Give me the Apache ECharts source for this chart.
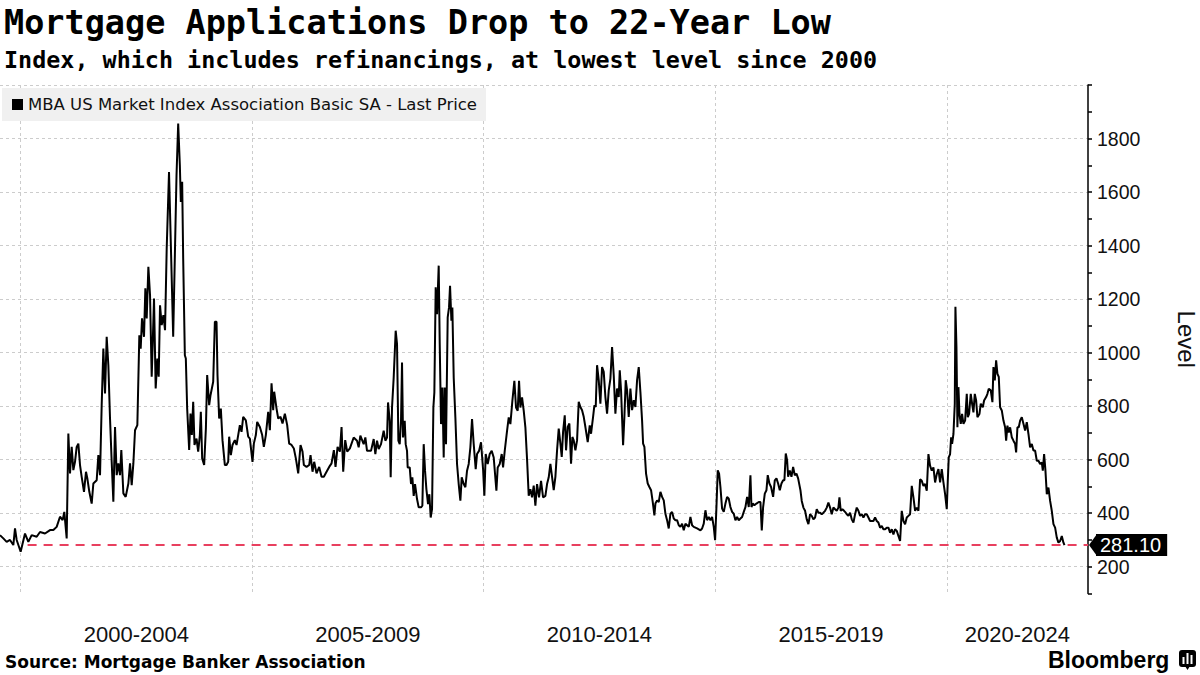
<!DOCTYPE html>
<html>
<head>
<meta charset="utf-8">
<script src="https://cdn.jsdelivr.net/npm/echarts@6/dist/echarts.min.js"></script>
<style>html,body{margin:0;padding:0;background:#fff;}#main{width:1200px;height:675px;}</style>
</head>
<body>
<div id="main"></div>
<script>
// ---- texts ----
const titleText = 'Mortgage Applications Drop to 22-Year Low';
const subtitleText = 'Index, which includes refinancings, at lowest level since 2000';
const sourceText = 'Source: Mortgage Banker Association';
const seriesName = 'MBA US Market Index Association Basic SA - Last Price';
const axisName = 'Level';
const periodLabels = ['2000-2004', '2005-2009', '2010-2014', '2015-2019', '2020-2024'];
const yLabelValues = [200, 400, 600, 800, 1000, 1200, 1400, 1600, 1800];

// ---- axis extents (decimal years / index level) ----
const xStart = 1999.554;
const xEnd = 2023.05;
const yMin = 100;
const yMax = 2000;
const lastValue = 281.10;
const lowSince = 2000.15;

// ---- series: [decimal year, index level] ----
const mbaIndex = [
[1999.554,318],[1999.626,306],[1999.698,293],[1999.770,300],[1999.842,281],[1999.878,343],[1999.914,300],[2000.000,256],
[2000.094,324],[2000.166,293],[2000.238,318],[2000.346,312],[2000.418,330],[2000.526,324],[2000.634,337],[2000.706,337],
[2000.778,349],[2000.850,387],[2000.907,374],[2000.943,405],[2000.994,306],[2001.030,698],[2001.066,549],[2001.102,648],
[2001.138,561],[2001.174,592],[2001.210,648],[2001.246,660],[2001.282,580],[2001.318,536],[2001.368,480],[2001.411,555],
[2001.440,530],[2001.483,480],[2001.534,436],[2001.570,511],[2001.642,523],[2001.678,617],[2001.714,542],[2001.750,804],
[2001.786,1015],[2001.822,847],[2001.858,1059],[2001.894,953],[2001.930,754],[2001.966,592],[2002.002,443],[2002.038,722],
[2002.074,542],[2002.110,586],[2002.146,542],[2002.174,636],[2002.218,474],[2002.268,461],[2002.326,511],[2002.362,586],
[2002.398,505],[2002.434,586],[2002.470,710],[2002.520,729],[2002.563,1065],[2002.592,1015],[2002.621,1128],[2002.664,1059],
[2002.693,1240],[2002.722,1128],[2002.758,1321],[2002.794,1215],[2002.830,910],[2002.851,1028],[2002.880,1202],[2002.916,866],
[2002.952,978],[2002.981,910],[2003.010,1177],[2003.046,1103],[2003.082,1140],[2003.118,1084],[2003.154,1389],[2003.204,1675],
[2003.294,1059],[2003.366,1663],[2003.402,1856],[2003.438,1700],[2003.459,1563],[2003.488,1638],[2003.510,1352],[2003.546,990],
[2003.567,978],[2003.596,791],[2003.639,636],[2003.668,772],[2003.697,692],[2003.726,816],[2003.754,655],[2003.798,679],
[2003.834,630],[2003.870,692],[2003.891,779],[2003.920,605],[2003.963,580],[2004.000,716],[2004.028,916],[2004.071,804],
[2004.100,841],[2004.158,891],[2004.194,1115],[2004.230,1115],[2004.251,916],[2004.287,754],[2004.323,791],[2004.359,673],
[2004.410,580],[2004.446,580],[2004.482,592],[2004.503,686],[2004.539,617],[2004.575,655],[2004.626,673],[2004.662,655],
[2004.698,692],[2004.734,729],[2004.770,704],[2004.806,760],[2004.863,747],[2004.914,686],[2004.950,679],[2005.007,592],
[2005.036,660],[2005.079,692],[2005.108,741],[2005.166,722],[2005.216,692],[2005.252,648],[2005.295,692],[2005.346,779],
[2005.382,710],[2005.418,885],[2005.454,785],[2005.475,854],[2005.526,791],[2005.562,754],[2005.612,760],[2005.655,735],
[2005.706,772],[2005.756,729],[2005.799,660],[2005.850,655],[2005.900,642],[2005.943,605],[2005.994,549],[2006.044,655],
[2006.087,630],[2006.116,580],[2006.174,573],[2006.231,580],[2006.260,617],[2006.303,555],[2006.339,592],[2006.390,549],
[2006.447,573],[2006.498,536],[2006.548,536],[2006.606,555],[2006.663,573],[2006.714,586],[2006.764,636],[2006.800,573],
[2006.844,648],[2006.894,630],[2006.930,722],[2006.966,555],[2007.009,673],[2007.052,630],[2007.110,642],
[2007.192,683],[2007.264,671],[2007.300,646],[2007.336,690],[2007.408,658],[2007.444,683],[2007.480,633],[2007.538,633],
[2007.566,633],[2007.624,677],[2007.660,621],[2007.696,671],[2007.732,640],[2007.782,658],[2007.840,708],[2007.876,671],
[2007.912,683],[2007.934,814],[2007.970,745],[2007.991,534],[2008.020,795],[2008.056,907],[2008.099,1082],[2008.128,1032],
[2008.157,671],[2008.186,658],[2008.214,745],[2008.236,963],[2008.258,683],[2008.294,745],[2008.315,658],[2008.344,633],
[2008.358,571],[2008.402,571],[2008.430,509],[2008.459,534],[2008.488,465],[2008.517,509],[2008.560,453],[2008.596,422],
[2008.646,422],[2008.675,428],[2008.704,658],[2008.733,559],[2008.762,490],[2008.798,434],[2008.826,471],[2008.855,384],
[2008.884,415],[2008.913,795],[2008.934,851],[2008.963,1244],[2008.992,1144],[2009.028,1325],[2009.050,1032],[2009.078,733],
[2009.107,870],[2009.136,608],[2009.158,870],[2009.186,658],[2009.222,1132],[2009.251,1169],[2009.273,1250],[2009.302,1119],
[2009.323,1169],[2009.352,907],[2009.388,758],[2009.424,584],[2009.460,509],[2009.496,447],[2009.525,534],[2009.568,509],
[2009.604,497],[2009.640,559],[2009.676,584],[2009.712,646],[2009.748,752],[2009.784,658],[2009.827,565],[2009.856,621],
[2009.899,633],[2009.942,665],[2009.986,565],[2010.014,465],[2010.043,621],[2010.086,584],[2010.130,621],[2010.173,633],
[2010.216,608],[2010.274,484],[2010.302,571],[2010.346,584],[2010.389,621],[2010.418,571],[2010.454,633],[2010.504,708],
[2010.540,758],[2010.576,733],[2010.619,820],[2010.662,895],[2010.698,795],[2010.734,783],[2010.763,895],[2010.792,795],
[2010.828,833],[2010.864,783],[2010.900,721],[2010.936,602],[2010.972,465],[2011.008,490],[2011.044,459],[2011.080,503],
[2011.116,428],[2011.152,509],[2011.195,459],[2011.238,521],[2011.282,459],[2011.332,465],[2011.368,509],[2011.404,534],
[2011.440,584],[2011.476,536],[2011.512,486],[2011.548,536],[2011.584,635],[2011.620,716],[2011.656,660],[2011.685,610],
[2011.714,704],[2011.750,766],[2011.778,635],[2011.814,722],[2011.850,735],[2011.886,585],[2011.915,685],[2011.944,672],
[2011.980,635],[2012.016,672],[2012.052,816],[2012.088,797],[2012.124,785],[2012.160,760],[2012.196,722],[2012.246,666],
[2012.290,728],[2012.318,697],[2012.362,760],[2012.390,803],[2012.419,797],[2012.448,953],[2012.484,897],[2012.520,809],
[2012.556,946],[2012.592,928],[2012.628,834],[2012.664,772],[2012.700,859],[2012.736,903],[2012.772,1021],[2012.808,915],
[2012.844,772],[2012.880,866],[2012.916,834],[2012.938,934],[2012.966,859],[2013.010,654],[2013.038,760],[2013.067,897],
[2013.096,859],[2013.132,760],[2013.168,866],[2013.204,785],[2013.240,822],[2013.276,797],[2013.312,897],[2013.348,946],
[2013.384,853],[2013.420,747],[2013.442,660],[2013.470,648],[2013.506,548],[2013.542,511],[2013.578,498],[2013.614,486],
[2013.650,442],[2013.686,392],[2013.708,436],[2013.744,448],[2013.780,442],[2013.816,480],[2013.852,461],[2013.888,448],
[2013.924,398],[2013.960,374],[2013.996,343],[2014.032,398],[2014.068,405],[2014.104,380],[2014.140,374],[2014.176,374],
[2014.212,355],[2014.248,349],[2014.284,361],[2014.320,336],[2014.356,361],[2014.392,355],[2014.428,349],[2014.464,386],
[2014.500,355],[2014.536,349],[2014.608,343],[2014.680,336],[2014.716,343],[2014.752,361],[2014.788,411],[2014.824,374],
[2014.860,386],[2014.896,374],[2014.932,386],[2014.968,349],[2014.997,299],[2015.026,423],[2015.054,560],[2015.083,548],
[2015.112,498],[2015.148,417],[2015.184,405],[2015.220,436],[2015.256,461],[2015.292,454],[2015.328,423],[2015.364,405],
[2015.400,398],[2015.436,374],[2015.472,386],[2015.508,374],[2015.544,380],[2015.580,386],[2015.616,405],[2015.652,423],
[2015.688,461],[2015.724,423],[2015.760,542],[2015.782,423],[2015.810,436],[2015.846,430],[2015.890,436],[2015.940,442],
[2015.976,442],[2016.005,336],[2016.034,423],[2016.070,473],[2016.106,486],[2016.134,542],[2016.170,511],[2016.206,498],
[2016.250,461],[2016.286,523],[2016.322,530],[2016.358,511],[2016.394,486],[2016.430,511],[2016.466,523],[2016.494,523],
[2016.523,623],[2016.552,598],[2016.574,536],[2016.610,560],[2016.646,536],[2016.682,573],[2016.718,542],[2016.754,548],
[2016.790,530],[2016.840,486],[2016.868,446],[2016.904,421],[2016.940,409],[2016.976,377],[2017.012,359],[2017.048,396],
[2017.084,390],[2017.120,377],[2017.156,384],[2017.192,415],[2017.228,402],[2017.264,402],[2017.300,396],[2017.336,402],
[2017.372,409],[2017.408,421],[2017.444,440],[2017.480,421],[2017.516,396],[2017.552,421],[2017.588,415],[2017.624,409],
[2017.660,421],[2017.682,459],[2017.710,409],[2017.746,415],[2017.782,409],[2017.818,402],[2017.840,396],[2017.876,390],
[2017.912,402],[2017.948,377],[2017.984,365],[2018.020,396],[2018.056,421],[2018.092,409],[2018.128,390],[2018.164,396],
[2018.200,384],[2018.236,396],[2018.272,396],[2018.308,384],[2018.344,371],[2018.380,371],[2018.416,371],[2018.452,384],
[2018.488,371],[2018.524,365],[2018.560,346],[2018.596,352],[2018.632,340],[2018.668,340],[2018.704,346],[2018.740,346],
[2018.776,327],[2018.812,340],[2018.848,321],[2018.884,340],[2018.920,334],[2018.956,315],[2018.992,296],[2019.028,409],
[2019.064,371],[2019.100,359],[2019.136,384],[2019.172,390],[2019.208,396],[2019.244,502],[2019.280,459],[2019.316,409],
[2019.352,421],[2019.388,409],[2019.424,527],[2019.460,521],[2019.496,502],[2019.532,509],[2019.568,484],[2019.604,621],
[2019.640,577],[2019.676,559],[2019.712,571],[2019.748,515],[2019.784,546],[2019.820,565],[2019.856,515],[2019.892,565],
[2019.928,515],[2019.964,471],[2020.000,415],[2020.022,521],[2020.043,609],[2020.072,621],[2020.094,684],[2020.115,659],
[2020.144,696],[2020.173,809],[2020.187,1171],[2020.209,1021],[2020.230,721],[2020.252,871],[2020.274,771],[2020.302,734],
[2020.331,771],[2020.360,734],[2020.396,746],[2020.432,846],[2020.454,759],[2020.482,771],[2020.518,846],[2020.547,809],
[2020.576,777],[2020.605,846],[2020.634,821],[2020.662,759],[2020.706,771],[2020.734,809],[2020.778,796],[2020.806,821],
[2020.850,834],[2020.878,846],[2020.907,865],[2020.950,859],[2020.986,815],[2021.008,946],[2021.037,896],[2021.066,971],
[2021.094,921],[2021.123,909],[2021.152,796],[2021.188,784],[2021.224,746],[2021.260,721],[2021.282,671],[2021.310,727],
[2021.339,702],[2021.368,721],[2021.404,684],[2021.440,671],[2021.476,659],[2021.498,627],[2021.526,721],[2021.555,721],
[2021.584,746],[2021.620,759],[2021.656,734],[2021.692,709],[2021.728,740],[2021.764,696],[2021.800,646],[2021.836,659],
[2021.872,634],[2021.908,634],[2021.944,596],[2021.980,596],[2022.016,584],[2022.052,590],[2022.074,559],[2022.102,621],
[2022.131,559],[2022.160,471],[2022.196,496],[2022.232,446],[2022.268,409],[2022.304,359],[2022.340,346],[2022.376,309],
[2022.412,290],[2022.448,296],[2022.484,315],[2022.520,290],[2022.542,281.1]
];

// ---- derived axis helpers ----
const periodStarts = periodLabels.map(l => parseInt(l.slice(0, 4), 10));
const periodEnds = periodLabels.map(l => parseInt(l.slice(5), 10) + 1);
const labelPositions = periodStarts.map((s, i) => (s + Math.min(periodEnds[i], xEnd)) / 2);

const chart = echarts.init(document.getElementById('main'), null, {renderer: 'svg', width: 1200, height: 675});

const gridLine = {color: '#cccccc', width: 1, type: [3, 3]};
const axisFont = 'Liberation Sans';

const option = {
  animation: false,
  backgroundColor: '#ffffff',
  title: [
    {text: titleText, left: 4, top: 5, padding: 0,
     textStyle: {fontFamily: 'DejaVu Sans Mono', fontWeight: 'bold', fontSize: 33.5, color: '#000'}},
    {text: subtitleText, left: 4, top: 48, padding: 0,
     textStyle: {fontFamily: 'DejaVu Sans Mono', fontWeight: 'bold', fontSize: 23.4, color: '#000'}},
    {text: sourceText, left: 5, top: 653, padding: 0,
     textStyle: {fontFamily: 'DejaVu Sans', fontWeight: 'bold', fontSize: 17, color: '#000'}},
    {text: 'Bloomberg', left: 1048, top: 648, padding: 0,
     textStyle: {fontFamily: 'Liberation Sans', fontWeight: 'bold', fontSize: 23, color: '#000'}}
  ],
  graphic: [
    {type: 'group', left: 1179, top: 650, children: [
      {type: 'rect', shape: {x: 0, y: 0, width: 17, height: 17, r: 3}, style: {fill: '#000'}},
      {type: 'polygon', shape: {points: [[6, 16], [11, 16], [8.5, 20]]}, style: {fill: '#000'}},
      {type: 'rect', shape: {x: 3.5, y: 7, width: 2, height: 7}, style: {fill: '#fff'}},
      {type: 'rect', shape: {x: 7.5, y: 3, width: 2, height: 11}, style: {fill: '#fff'}},
      {type: 'rect', shape: {x: 11.5, y: 5, width: 2, height: 9}, style: {fill: '#fff'}}
    ]}
  ],
  legend: {
    left: 2, top: 88, orient: 'horizontal',
    padding: [8, 9, 8, 10],
    backgroundColor: '#f0f0f0',
    icon: 'rect', itemWidth: 11, itemHeight: 11,
    textStyle: {fontFamily: 'DejaVu Sans', fontSize: 16.5, color: '#111'},
    data: [seriesName],
    selectedMode: false
  },
  grid: {left: 0, right: 112, top: 85, bottom: 81.5, containLabel: false, outerBoundsMode: 'none'},
  xAxis: {
    type: 'value', min: xStart, max: xEnd,
    axisLine: {show: false},
    axisTick: {show: false, customValues: periodStarts},
    splitLine: {show: true, lineStyle: gridLine},
    axisLabel: {
      customValues: labelPositions,
      formatter: function (v) {
        let best = 0;
        labelPositions.forEach((p, i) => { if (Math.abs(p - v) < Math.abs(labelPositions[best] - v)) best = i; });
        return periodLabels[best];
      },
      fontFamily: axisFont, fontSize: 22, color: '#111', margin: 30
    }
  },
  yAxis: {
    type: 'value', position: 'right', min: yMin, max: yMax, interval: 100,
    axisLine: {show: true, lineStyle: {color: '#000', width: 1.5}},
    axisTick: {show: true, length: 4, lineStyle: {color: '#000', width: 1.5}},
    axisLabel: {
      formatter: v => (yLabelValues.indexOf(v) >= 0 ? String(v) : ''),
      fontFamily: axisFont, fontSize: 19.5, lineHeight: 19, color: '#111', margin: 9
    },
    splitLine: {show: true, lineStyle: Object.assign({}, gridLine, {color: ['rgba(0,0,0,0)', '#cccccc']})},
    name: axisName, nameLocation: 'middle', nameRotate: -90, nameGap: 86,
    nameTextStyle: {fontFamily: axisFont, fontSize: 24, lineHeight: 24, color: '#111'}
  },
  series: [{
    name: seriesName, type: 'line', data: mbaIndex,
    symbol: 'none', showSymbol: false, smooth: false,
    lineStyle: {color: '#000', width: 2},
    itemStyle: {color: '#000'},
    z: 3,
    markLine: {
      silent: true, symbol: ['none', 'none'], z: 2,
      lineStyle: {color: '#e8405f', type: [9, 7], width: 2},
      label: {show: true, position: 'end', formatter: () => lastValue.toFixed(2),
              backgroundColor: '#000', color: '#fff', fontFamily: axisFont, fontSize: 20,
              lineHeight: 19, padding: [2, 6, 1, 4], distance: 8},
      data: [[{coord: [lowSince, lastValue]}, {coord: [xEnd, lastValue]}]]
    },
    markPoint: {
      silent: true, symbol: 'triangle', symbolSize: [22, 8], symbolRotate: 90, symbolOffset: [5, 0],
      itemStyle: {color: '#000'}, label: {show: false},
      data: [{coord: [xEnd, lastValue]}]
    }
  }]
};
chart.setOption(option);
</script>
</body>
</html>
